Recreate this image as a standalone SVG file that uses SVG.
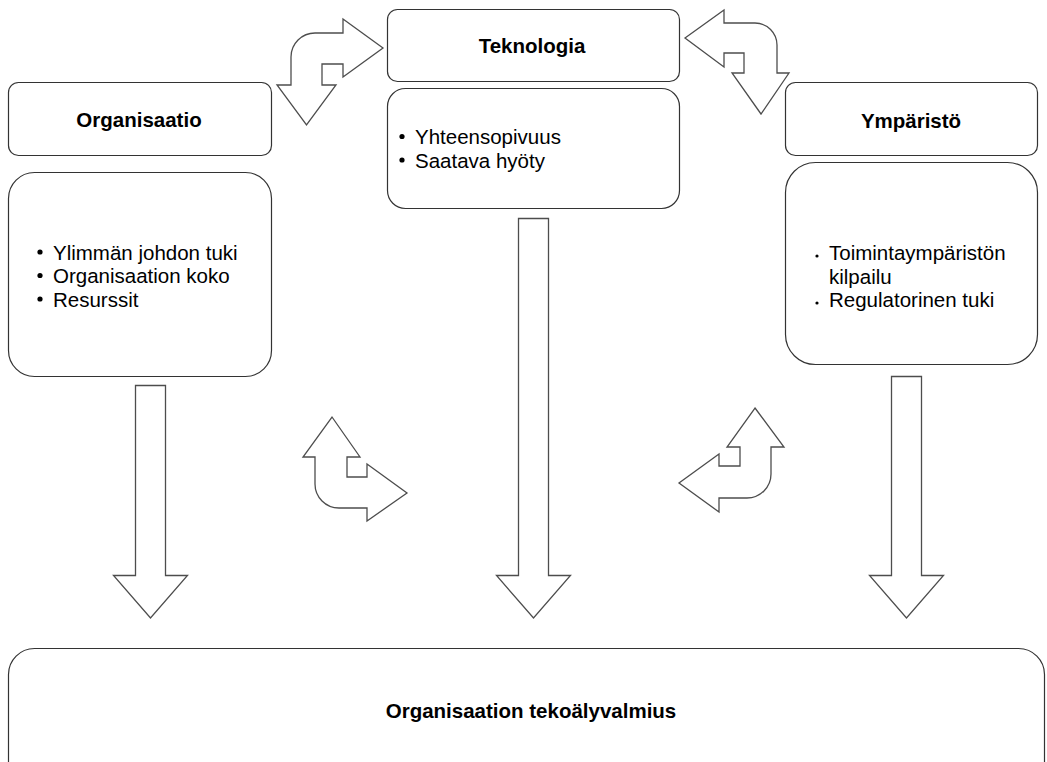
<svg xmlns="http://www.w3.org/2000/svg" width="1047" height="762" viewBox="0 0 1047 762">
  <style>
    .box { fill: #ffffff; stroke: #333333; stroke-width: 1.2; }
    .arrow { fill: #ffffff; stroke: #4d4d4d; stroke-width: 1.3; stroke-linejoin: miter; }
    .title { font-family: "Liberation Sans", Arial, sans-serif; font-size: 20.5px; font-weight: bold; fill: #000000; text-anchor: middle; }
    .item { font-family: "Liberation Sans", Arial, sans-serif; font-size: 20.5px; fill: #000000; }
    .dot { fill: #000000; }
  </style>
  <rect width="1047" height="762" fill="#ffffff"/>

  <!-- Organisaatio -->
  <g id="organisaatio-header">
    <rect class="box" x="8.5" y="82.5" width="263" height="73" rx="10"/>
    <text class="title" x="139" y="126.5">Organisaatio</text>
  </g>
  <g id="organisaatio-factors">
    <rect class="box" x="8.5" y="172.5" width="263" height="204" rx="26"/>
    <circle class="dot" cx="40" cy="252" r="2.6"/>
    <text class="item" x="53" y="259.5">Ylimmän johdon tuki</text>
    <circle class="dot" cx="40" cy="275.5" r="2.6"/>
    <text class="item" x="53" y="283">Organisaation koko</text>
    <circle class="dot" cx="40" cy="299" r="2.6"/>
    <text class="item" x="53" y="306.5">Resurssit</text>
  </g>

  <!-- Teknologia -->
  <g id="teknologia-header">
    <rect class="box" x="387.5" y="9.5" width="292" height="72" rx="10"/>
    <text class="title" x="532" y="52.5">Teknologia</text>
  </g>
  <g id="teknologia-factors">
    <rect class="box" x="387.5" y="88.5" width="292" height="120" rx="18"/>
    <circle class="dot" cx="402" cy="136.5" r="2.6"/>
    <text class="item" x="415" y="144">Yhteensopivuus</text>
    <circle class="dot" cx="402" cy="160" r="2.6"/>
    <text class="item" x="415" y="167.5">Saatava hyöty</text>
  </g>

  <!-- Ympäristö -->
  <g id="ymparisto-header">
    <rect class="box" x="785.5" y="82.5" width="252" height="73" rx="10"/>
    <text class="title" x="911" y="127.5">Ympäristö</text>
  </g>
  <g id="ymparisto-factors">
    <rect class="box" x="785.5" y="162.5" width="252" height="202" rx="30"/>
    <circle class="dot" cx="817" cy="256" r="1.6"/>
    <text class="item" x="829" y="259.5">Toimintaympäristön</text>
    <text class="item" x="829" y="283.5">kilpailu</text>
    <circle class="dot" cx="817" cy="303" r="1.6"/>
    <text class="item" x="829" y="306.5">Regulatorinen tuki</text>
  </g>

  <!-- Result -->
  <g id="tekoalyvalmius">
    <rect class="box" x="8.5" y="648.5" width="1036" height="140" rx="26"/>
    <text class="title" x="531" y="717.5">Organisaation tekoälyvalmius</text>
  </g>

  <!-- Connectors -->
  <g id="connectors">
    <!-- factor arrows into readiness -->
    <path class="arrow" d="M135.5 385.5 L165.5 385.5 L165.5 575.5 L187.5 575.5 L150.5 618 L113.5 575.5 L135.5 575.5 Z"/>
    <path class="arrow" d="M518.5 218.5 L548.5 218.5 L548.5 575.5 L570.5 575.5 L533.5 618 L496.5 575.5 L518.5 575.5 Z"/>
    <path class="arrow" d="M891.5 376.5 L921.5 376.5 L921.5 575.5 L943.5 575.5 L906.5 618 L869.5 575.5 L891.5 575.5 Z"/>

    <!-- Organisaatio <-> Teknologia -->
    <path class="arrow" d="M383 48 L343 19 L343 33 L315 33 A24 24 0 0 0 291 57 L291 85 L277 85 L306.5 125 L336 85 L322 85 L322 64 L343 64 L343 77 Z"/>
    <!-- Teknologia <-> Ympäristö -->
    <path class="arrow" d="M685 38 L724 10 L724 23 L755 23 A22 22 0 0 1 777 45 L777 73 L789 73 L761 114 L732 73 L744 73 L744 53 L724 53 L724 67 Z"/>
    <!-- Organisaatio <-> Teknologia (lower) -->
    <path class="arrow" d="M332 417 L360 457 L347 457 L347 477 L367 477 L367 464 L407 493 L367 521 L367 508 L339 508 A24 24 0 0 1 315 484 L315 457 L303 457 Z"/>
    <!-- Ympäristö <-> Teknologia (lower) -->
    <path class="arrow" d="M755 408 L784 447 L771 447 L771 474 A24 24 0 0 1 747 498 L719 498 L719 512 L679 483 L719 454 L719 466 L740 466 L740 447 L727 447 Z"/>
  </g>
</svg>
